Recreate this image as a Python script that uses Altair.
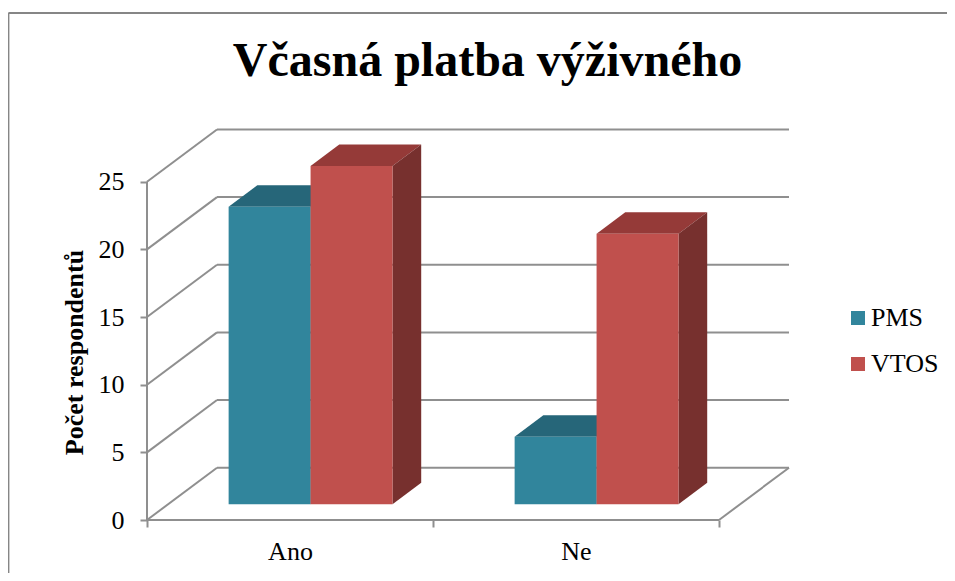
import altair as alt
import pandas as pd

# ---- values ----
categories = ["Ano", "Ne"]
series = ["PMS", "VTOS"]
pms_values = [22, 5]
vtos_values = [25, 20]
value_ticks = [0, 5, 10, 15, 20, 25]

title_text = "Včasná platba výživného"
y_title = "Počet respondentů"

front_colors = {"PMS": "#31859C", "VTOS": "#C0504D"}
top_colors = {"PMS": "#266679", "VTOS": "#953A38"}
side_colors = {"PMS": "#215968", "VTOS": "#77302E"}
GRID = "#8F8F8F"
FONT = "Liberation Serif"

# ---- canvas / projection ----
W, H = 939, 565
PX_C = 286.0     # pixels per category
PX_V = 13.53     # pixels per respondent
ORIGIN_X, ORIGIN_Y = 147 - 8, 520 - 8   # where category 0 / value 0 fall inside the canvas
DEPTH_C = 70 / PX_C      # full floor depth, in category units
DEPTH_V = 52.3 / PX_V    # full floor depth, in value units
BAR_FRONT, BAR_BACK = 0.30, 0.71
BAR_START, BAR_W = 0.212, 0.2865

x_dom = [-ORIGIN_X / PX_C, (W - ORIGIN_X) / PX_C]
y_dom = [(ORIGIN_Y - H) / PX_V, ORIGIN_Y / PX_V]
xs = alt.Scale(domain=x_dom, nice=False, zero=False)
ys = alt.Scale(domain=y_dom, nice=False, zero=False)
n_cat = len(categories)


def proj(c, v, d):
    return c + d * DEPTH_C, v + d * DEPTH_V


# ---- frame and walls ----
segments = []
top_v = y_dom[1] - 5 / PX_V
left_c = x_dom[0] + 0.4 / PX_C
segments.append((left_c, top_v, x_dom[1], top_v, "#868686"))
segments.append((left_c, y_dom[0], left_c, top_v, "#868686"))
segments.append((0, 0, 0, max(value_ticks), GRID))
segments.append((0, 0, n_cat, 0, GRID))
for v in value_ticks:
    bx0, by0 = proj(0, v, 1)
    bx1, by1 = proj(n_cat, v, 1)
    segments.append((0, v, bx0, by0, GRID))
    segments.append((bx0, by0, bx1, by1, GRID))
fx, fy = proj(n_cat, 0, 1)
segments.append((n_cat, 0, fx, fy, GRID))
seg_df = pd.DataFrame(segments, columns=["x", "y", "x2", "y2", "c"])

# ---- bar faces ----
fronts, tops, sides = [], [], []
for s_i, (s, vals) in enumerate(zip(series, [pms_values, vtos_values])):
    for c_i, v in enumerate(vals):
        key = f"{s}-{c_i}"
        left = c_i + BAR_START + s_i * BAR_W
        right = left + BAR_W
        xf0, yb = proj(left, 0, BAR_FRONT)
        xf1, yt = proj(right, v, BAR_FRONT)
        xb0, ybb = proj(left, 0, BAR_BACK)
        xb1, ybt = proj(right, v, BAR_BACK)
        fronts.append(dict(series=s, x=xf0, x2=xf1, y=yb, y2=yt))
        tops.append(dict(k=key, c=top_colors[s], y=yt, x=xf0, x2=xf1))
        tops.append(dict(k=key, c=top_colors[s], y=ybt, x=xb0, x2=xb1))
        sides.append(dict(k=key, c=side_colors[s], x=xf1, y=yb, y2=yt))
        sides.append(dict(k=key, c=side_colors[s], x=xb1, y=ybb, y2=ybt))

label_expr = "".join(f"datum.value=={i + 0.5}?'{c}':" for i, c in enumerate(categories)) + "''"
x_values = sorted(list(range(n_cat + 1)) + [i + 0.5 for i in range(n_cat)])
tick_test = " || ".join(f"datum.value=={i + 0.5}" for i in range(n_cat))

x_axis = alt.Axis(
    orient="bottom", offset=ORIGIN_Y - H, values=x_values, labelExpr=label_expr,
    domain=False, grid=False, tickSize=7, tickColor=GRID, tickWidth=2,
    tickOpacity={"condition": {"test": tick_test, "value": 0}, "value": 1},
    labelFont=FONT, labelFontSize=26, labelColor="#000000", labelPadding=11,
    labelOverlap=False, title=None,
)
y_axis = alt.Axis(
    orient="left", offset=-ORIGIN_X, values=value_ticks, domain=False, grid=False,
    tickSize=7, tickColor=GRID, tickWidth=2, labelFont=FONT, labelFontSize=26,
    labelColor="#000000", labelPadding=16, labelOverlap=False,
    title=y_title, titleFont=FONT, titleFontSize=26, titleFontWeight="bold",
    titleColor="#000000", titleAngle=270, titleX=-73, titleY=344,
    titleAlign="center", titleBaseline="middle",
)

X = lambda: alt.X("x:Q", scale=xs, axis=x_axis, title=None)
Y = lambda: alt.Y("y:Q", scale=ys, axis=y_axis, title=y_title)

walls = alt.Chart(seg_df).mark_rule(strokeWidth=2).encode(
    x=X(), y=Y(), x2="x2:Q", y2="y2:Q",
    color=alt.Color("c:N", scale=None, legend=None),
)
top_faces = alt.Chart(pd.DataFrame(tops)).mark_area(orient="horizontal").encode(
    y=Y(), x=X(), x2="x2:Q", detail="k:N",
    color=alt.Color("c:N", scale=None, legend=None),
)
side_faces = alt.Chart(pd.DataFrame(sides)).mark_area(orient="vertical").encode(
    x=X(), y=Y(), y2="y2:Q", detail="k:N",
    color=alt.Color("c:N", scale=None, legend=None),
)
front_faces = alt.Chart(pd.DataFrame(fronts)).mark_rect().encode(
    x=X(), x2="x2:Q", y=Y(), y2="y2:Q",
    fill=alt.Fill(
        "series:N",
        scale=alt.Scale(domain=series, range=[front_colors[s] for s in series]),
        legend=alt.Legend(
            title=None, orient="none", legendX=837, legendY=297,
            symbolType="square", symbolSize=196, symbolStrokeWidth=0,
            symbolOpacity=1, labelFont=FONT, labelFontSize=26,
            labelColor="#000000", rowPadding=20, labelOffset=0,
        ),
    ),
)

chart = (
    alt.layer(walls, top_faces, side_faces, front_faces)
    .properties(
        width=W, height=H, padding=0,
        autosize=alt.AutoSizeParams(type="none"),
        background="#FFFFFF",
        title=alt.TitleParams(
            title_text, font=FONT, fontSize=48, fontWeight="bold", color="#000000",
            anchor="middle", dx=10, dy=78, offset=0,
        ),
    )
    .configure_view(stroke=None)
)
chart.save("out.html", embed_options={"renderer": "svg", "actions": False})
